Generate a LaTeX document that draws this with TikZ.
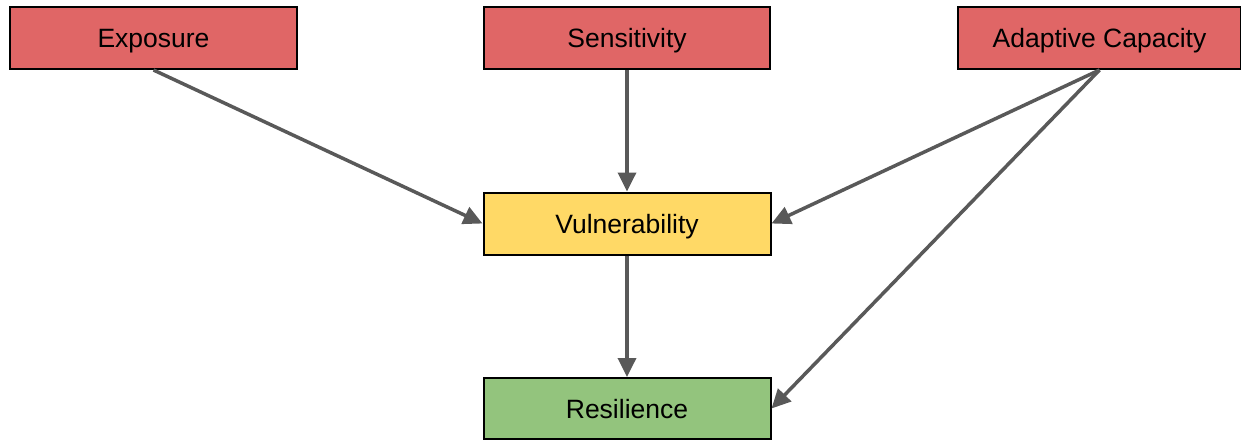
\documentclass[tikz,border=0pt]{standalone}
\usepackage{fontspec}
\setmainfont{Liberation Sans}
\usetikzlibrary{arrows.meta}
\definecolor{redbox}{HTML}{E06666}
\definecolor{yellowbox}{HTML}{FFD966}
\definecolor{greenbox}{HTML}{93C47D}
\definecolor{arrowgray}{HTML}{595959}
\tikzset{
  box/.style={draw=black, line width=2pt, rectangle, minimum height=62pt, inner sep=0pt,
    text height=21.5pt, text depth=2.5pt,
    font=\fontsize{26.5}{30}\selectfont},
  conn/.style={draw=arrowgray, line width=3.5pt, -{Triangle[length=19pt,width=18pt]}}
}
\begin{document}
\begin{tikzpicture}[x=1pt,y=-1pt]
\useasboundingbox (0,0) rectangle (1241,440);
\node[box, fill=redbox, minimum width=287pt] (exp) at (153.5,38) {Exposure};
\node[box, fill=redbox, minimum width=286pt] (sen) at (627,38) {Sensitivity};
\node[box, fill=redbox, minimum width=283pt] (ada) at (1099.5,38) {Adaptive Capacity};
\node[box, fill=yellowbox, minimum width=287pt] (vul) at (627,223.5) {Vulnerability};
\node[box, fill=greenbox, minimum width=287pt, minimum height=61pt] (res) at (627,408.5) {Resilience};
\draw[conn] (exp.south) -- (vul.west);
\draw[conn] (sen.south) -- (vul.north);
\draw[conn] (ada.south) -- (vul.east);
\draw[conn] (ada.south) -- (res.east);
\draw[conn] (vul.south) -- (res.north);
\end{tikzpicture}
\end{document}
